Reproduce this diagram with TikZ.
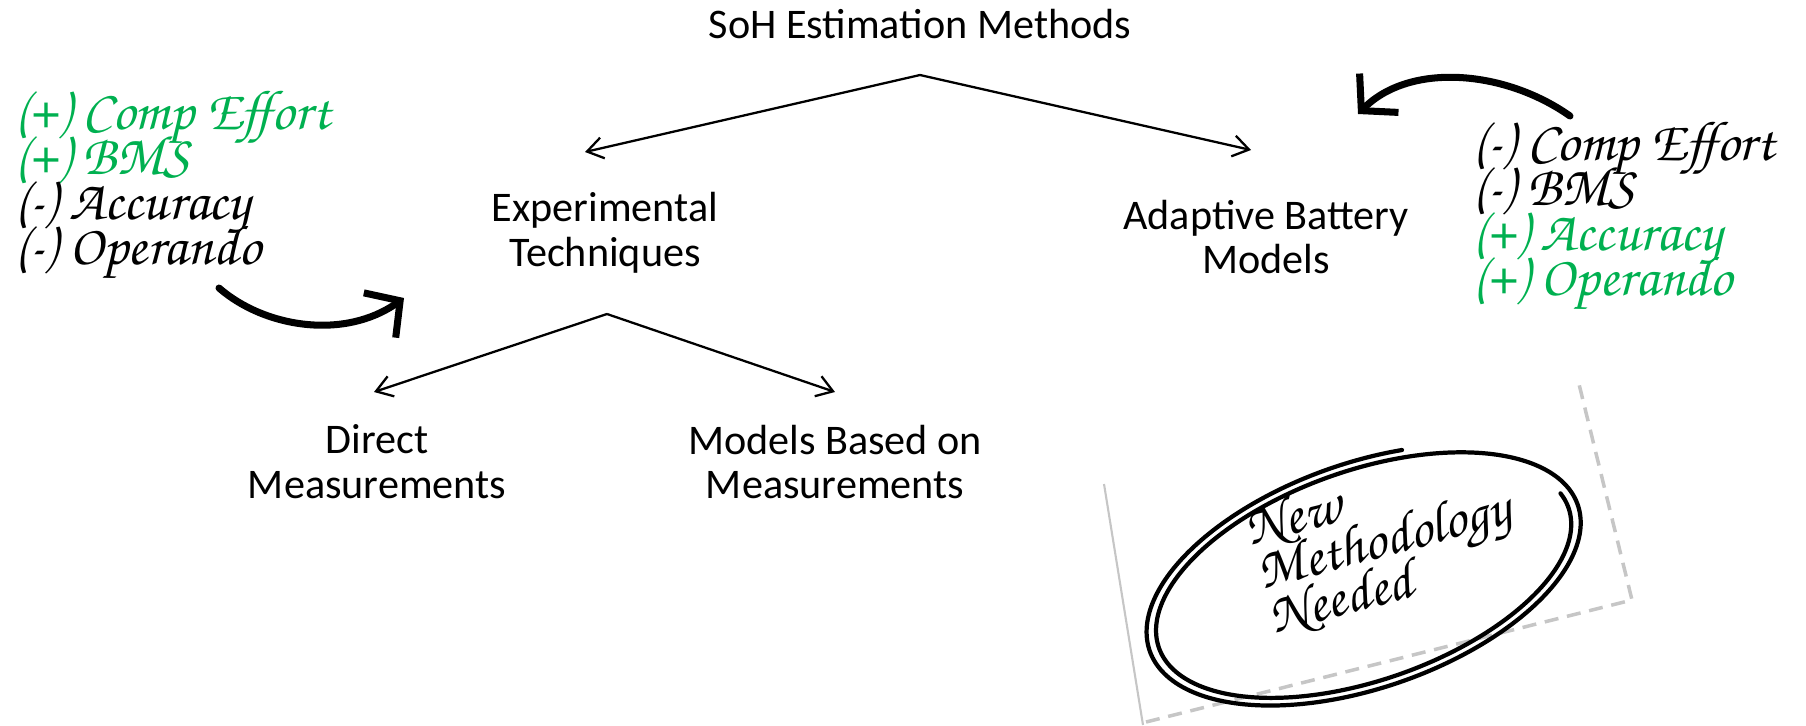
\documentclass[tikz,border=0pt]{standalone}
\usepackage{fontspec}
\setmainfont{Carlito}
\newfontfamily\hand{TeX Gyre Chorus}
\usetikzlibrary{arrows.meta}
\definecolor{proGreen}{HTML}{00B050}
\newcommand\tightlines{\lineskiplimit=-40pt\relax}

\begin{document}
\begin{tikzpicture}[x=0.02cm, y=-0.02cm,
    every node/.style={font=\fontsize{24}{25.5}\selectfont, align=center, inner sep=0pt},
    link/.style={line width=1.3pt, -{Straight Barb[length=9pt, width=12pt]}},
    swoosh/.style={line width=4pt, line cap=round, line join=round, -{Straight Barb[length=0.5cm, width=1.1cm]}},
    note/.style={font=\hand\fontsize{32}{25.5}\selectfont\tightlines, align=left, anchor=west},
    scribble/.style={line width=2.4pt, line cap=round, line join=round},
    shadow/.style={gray!45, line width=2pt}]
    \useasboundingbox (0,0) rectangle (1806,725);

    \node (soh) at (920,24) {SoH Estimation Methods};
    \node (exp) at (605,233) {Experimental\\Techniques};
    \node (abm) at (1266,237) {Adaptive Battery\\Models};
    \node (dm) at (377,462) {Direct\\Measurements};
    \node (mbm) at (835,462) {Models Based on\\Measurements};

    \coordinate (soh-split) at (920,75);
    \coordinate (to-exp) at (585,152);
    \coordinate (to-abm) at (1251,150);
    \coordinate (exp-split) at (607,314);
    \coordinate (to-dm) at (374,392);
    \coordinate (to-mbm) at (835,392);

    \draw[link] (soh-split) -- (to-exp);
    \draw[link] (soh-split) -- (to-abm);
    \draw[link] (exp-split) -- (to-dm);
    \draw[link] (exp-split) -- (to-mbm);

    \node[note] (pros-exp) at (14,185) {\textcolor{proGreen}{(+) Comp Effort}\\\textcolor{proGreen}{(+) BMS}\\(-) Accuracy\\(-) Operando};
    \node[note] (pros-abm) at (1472,216) {(-) Comp Effort\\(-) BMS\\\textcolor{proGreen}{(+) Accuracy}\\\textcolor{proGreen}{(+) Operando}};

    \coordinate (sw-exp) at (219,288);
    \coordinate (sw-abm) at (1570,116);
    \draw[swoosh] (sw-exp) .. controls (265,328) and (345,340) .. (404,298);
    \draw[swoosh] (sw-abm) .. controls (1505,70) and (1410,62) .. (1358,114);

    \draw[shadow, line width=1.2pt] (1104,484) -- (1143,725);
    \draw[shadow, dash pattern=on 8pt off 5pt] (1146,722) -- (1632,600) -- (1578,380);

    \node[note, anchor=center, rotate=15, font=\hand\fontsize{32}{26}\selectfont\tightlines] (newm) at (1384,542) {New\\Methodology\\Needed};
    \begin{scope}[shift={(1366,577)}, rotate=19]
        \draw[scribble] plot[domain=-9:649, samples=200, smooth] ({(214+0.027*\x)*cos(\x)}, {(101+0.021*\x)*sin(\x)});
    \end{scope}
\end{tikzpicture}
\end{document}
